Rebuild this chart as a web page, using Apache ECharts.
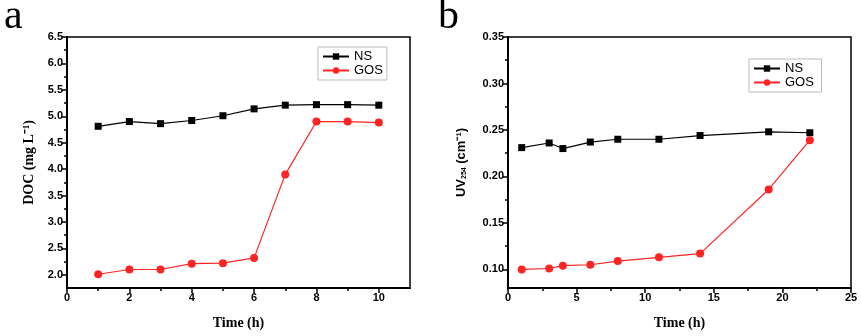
<!DOCTYPE html>
<html>
<head>
<meta charset="utf-8">
<script src="https://cdn.jsdelivr.net/npm/echarts@6/dist/echarts.min.js"></script>
<style>
  html, body { margin: 0; padding: 0; background: #fff; }
  #chart { width: 861px; height: 336px; }
</style>
</head>
<body>
<div id="chart"></div>
<script>
  // panel a: DOC
  var timeA = [1, 2, 3, 4, 5, 6, 7, 8, 9, 10]
  var nsA = [4.81, 4.90, 4.86, 4.92, 5.01, 5.14, 5.21, 5.22, 5.22, 5.21]
  var gosA = [2.01, 2.10, 2.10, 2.21, 2.22, 2.32, 3.90, 4.90, 4.90, 4.88]
  var xTicksA = [0, 2, 4, 6, 8, 10]
  var xMinorA = [1, 3, 5, 7, 9]
  var yTicksA = [2.0, 2.5, 3.0, 3.5, 4.0, 4.5, 5.0, 5.5, 6.0, 6.5]
  var yMinorA = [2.25, 2.75, 3.25, 3.75, 4.25, 4.75, 5.25, 5.75, 6.25]

  // panel b: UV254
  var timeB = [1, 3, 4, 6, 8, 11, 14, 19, 22]
  var nsB = [0.231, 0.236, 0.230, 0.237, 0.240, 0.240, 0.244, 0.248, 0.247]
  var gosB = [0.100, 0.101, 0.104, 0.105, 0.109, 0.113, 0.117, 0.186, 0.239]
  var xTicksB = [0, 5, 10, 15, 20, 25]
  var xMinorB = [2.5, 7.5, 12.5, 17.5, 22.5]
  var yTicksB = [0.10, 0.15, 0.20, 0.25, 0.30, 0.35]
  var yMinorB = [0.125, 0.175, 0.225, 0.275, 0.325]

  var RED = '#ff2424'
  var tickFont = { fontFamily: 'Liberation Sans', fontWeight: 'bold', fontSize: 11, color: '#000' }

  function pairs(xs, ys) {
    return xs.map(function (x, i) { return [x, ys[i]] })
  }

  function majorAxis(gridIndex, min, max, labels, fmt, extra) {
    var ax = {
      type: 'value',
      gridIndex: gridIndex,
      min: min,
      max: max,
      splitLine: { show: false },
      axisLine: { show: true, onZero: false, lineStyle: { color: '#000', width: 2 } },
      axisTick: { show: true, inside: false, length: 5, customValues: labels, lineStyle: { color: '#000', width: 1.5 } },
      axisLabel: Object.assign({ margin: 4, customValues: labels, formatter: fmt }, tickFont)
    }
    return Object.assign(ax, extra)
  }

  function minorAxis(gridIndex, min, max, ticks, extra) {
    var ax = {
      type: 'value',
      gridIndex: gridIndex,
      min: min,
      max: max,
      splitLine: { show: false },
      axisLine: { show: false, onZero: false },
      axisTick: { show: true, inside: false, length: 3, customValues: ticks, lineStyle: { color: '#000', width: 1.5 } },
      axisLabel: { show: false }
    }
    return Object.assign(ax, extra)
  }

  var titleSerif = { fontFamily: 'Liberation Serif', fontWeight: 'bold', fontSize: 14, color: '#000' }

  var legendBase = {
    orient: 'vertical',
    itemGap: 1,
    itemWidth: 26,
    itemHeight: 8,
    padding: [3, 4, 3, 4],
    borderColor: '#bbb',
    borderWidth: 1,
    textStyle: { fontFamily: 'Liberation Sans', fontSize: 13, color: '#000' }
  }

  var chart = echarts.init(document.getElementById('chart'))
  chart.setOption({
    animation: false,
    backgroundColor: '#fff',
    graphic: [
      { type: 'text', left: 4, top: -4, style: { text: 'a', font: '42px "Liberation Serif"', fill: '#000' } },
      { type: 'text', left: 438, top: -4, style: { text: 'b', font: '42px "Liberation Serif"', fill: '#000' } }
    ],
    grid: [
      { left: 67, top: 37, right: 451, bottom: 48, show: true, borderColor: '#000', borderWidth: 1.5, backgroundColor: 'transparent' },
      { left: 508, top: 37, right: 10, bottom: 48, show: true, borderColor: '#000', borderWidth: 1.5, backgroundColor: 'transparent' }
    ],
    legend: [
      Object.assign({ data: ['NS', 'GOS'], left: 318, top: 47 }, legendBase),
      Object.assign({ data: ['NS ', 'GOS '], left: 749, top: 59 }, legendBase)
    ],
    xAxis: [
      majorAxis(0, 0, 11, xTicksA, function (v) { return String(v) }, {
        position: 'bottom',
        name: 'Time (h)', nameLocation: 'middle', nameGap: 28, nameTextStyle: titleSerif
      }),
      minorAxis(0, 0, 11, xMinorA, { position: 'bottom' }),
      majorAxis(1, 0, 25, xTicksB, function (v) { return String(v) }, {
        position: 'bottom',
        name: 'Time (h)', nameLocation: 'middle', nameGap: 28, nameTextStyle: titleSerif
      }),
      minorAxis(1, 0, 25, xMinorB, { position: 'bottom' })
    ],
    yAxis: [
      majorAxis(0, 1.75, 6.5, yTicksA, function (v) { return v.toFixed(1) }, {
        position: 'left',
        name: 'DOC (mg L⁻¹)', nameLocation: 'middle', nameGap: 31, nameTextStyle: titleSerif
      }),
      minorAxis(0, 1.75, 6.5, yMinorA, { position: 'left' }),
      majorAxis(1, 0.08, 0.35, yTicksB, function (v) { return v.toFixed(2) }, {
        position: 'left',
        name: '{m|UV}{s|254}{m| (cm⁻¹)}', nameLocation: 'middle', nameGap: 40,
        nameTextStyle: {
          rich: {
            m: { fontFamily: 'Liberation Sans', fontWeight: 'bold', fontSize: 13, color: '#000' },
            s: { fontFamily: 'Liberation Sans', fontWeight: 'bold', fontSize: 7, color: '#000', verticalAlign: 'bottom', padding: [6, 0, 0, 0] }
          }
        }
      }),
      minorAxis(1, 0.08, 0.35, yMinorB, { position: 'left' })
    ],
    series: [
      {
        name: 'NS', type: 'line', xAxisIndex: 0, yAxisIndex: 0,
        data: pairs(timeA, nsA),
        symbol: 'rect', symbolSize: 7,
        lineStyle: { color: '#000', width: 1.2 },
        itemStyle: { color: '#000' }
      },
      {
        name: 'GOS', type: 'line', xAxisIndex: 0, yAxisIndex: 0,
        data: pairs(timeA, gosA),
        symbol: 'circle', symbolSize: 8,
        lineStyle: { color: RED, width: 1.2 },
        itemStyle: { color: RED }
      },
      {
        name: 'NS ', type: 'line', xAxisIndex: 2, yAxisIndex: 2,
        data: pairs(timeB, nsB),
        symbol: 'rect', symbolSize: 7,
        lineStyle: { color: '#000', width: 1.2 },
        itemStyle: { color: '#000' }
      },
      {
        name: 'GOS ', type: 'line', xAxisIndex: 2, yAxisIndex: 2,
        data: pairs(timeB, gosB),
        symbol: 'circle', symbolSize: 8,
        lineStyle: { color: RED, width: 1.2 },
        itemStyle: { color: RED }
      }
    ]
  })
</script>
</body>
</html>
